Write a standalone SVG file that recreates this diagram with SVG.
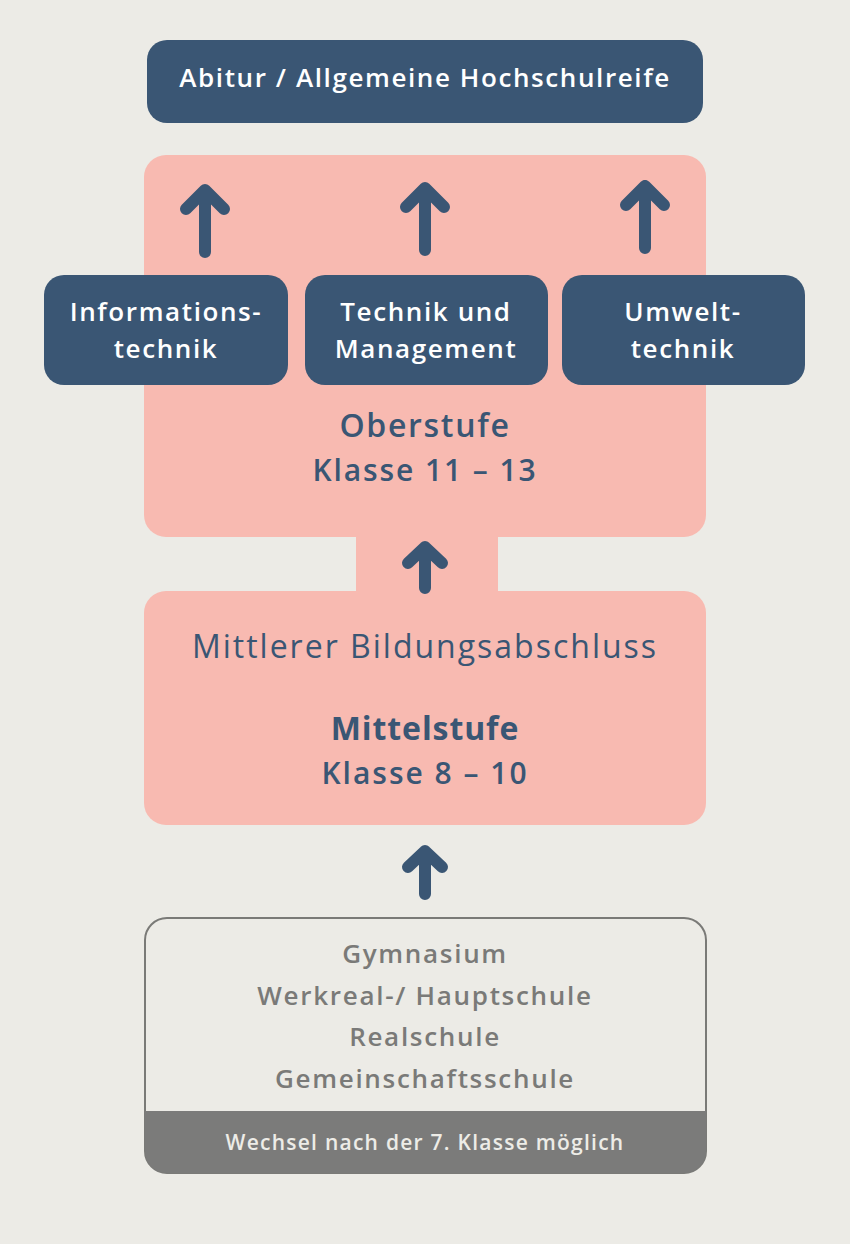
<svg xmlns="http://www.w3.org/2000/svg" width="850" height="1244" viewBox="0 0 850 1244">
<defs>
<style>
.bg{fill:#ECEBE6}
.dark{fill:#3A5674}
.pink{fill:#F8BAB1}
.t{font-family:"Open Sans","Liberation Sans",sans-serif;text-anchor:middle}
.w{fill:#FFFFFF;font-weight:600;font-size:26px;letter-spacing:1.6px}
.b{fill:#3A5674}
.g{fill:#7A7A78;font-weight:600;font-size:26px;letter-spacing:1.7px}
.arr{fill:none;stroke:#3A5674;stroke-width:12;stroke-linecap:round;stroke-linejoin:round}
</style>
</defs>
<rect class="bg" x="0" y="0" width="850" height="1244"/>
<g id="oberstufe">
<rect class="pink" x="144" y="155" width="562" height="382" rx="22"/>
<text class="t b" x="425" y="437" font-size="32" font-weight="600" letter-spacing="1.7">Oberstufe</text>
<text class="t b" x="425" y="481" font-size="30" font-weight="600" letter-spacing="1.9">Klasse 11 – 13</text>
</g>
<g id="mittelstufe">
<rect class="pink" x="144" y="591" width="562" height="234" rx="22"/>
<text class="t b" x="425" y="658" font-size="32" font-weight="400" letter-spacing="2">Mittlerer Bildungsabschluss</text>
<text class="t b" x="425" y="740" font-size="32" font-weight="700" letter-spacing="0.9">Mittelstufe</text>
<text class="t b" x="425" y="784" font-size="30" font-weight="600" letter-spacing="2">Klasse 8 – 10</text>
</g>
<g id="abitur">
<rect class="dark" x="147" y="40" width="556" height="83" rx="20"/>
<text class="t w" x="425" y="87">Abitur / Allgemeine Hochschulreife</text>
</g>
<g id="informationstechnik">
<rect class="dark" x="44" y="275" width="244" height="110" rx="20"/>
<text class="t w" x="166" y="321">Informations-</text>
<text class="t w" x="166" y="358">technik</text>
</g>
<g id="technik-management">
<rect class="dark" x="305" y="275" width="243" height="110" rx="20"/>
<text class="t w" x="426" y="321">Technik und</text>
<text class="t w" x="426" y="358">Management</text>
</g>
<g id="umwelttechnik">
<rect class="dark" x="562" y="275" width="243" height="110" rx="20"/>
<text class="t w" x="683" y="321">Umwelt-</text>
<text class="t w" x="683" y="358">technik</text>
</g>
<g id="schulen">
<rect x="145" y="918" width="561" height="255" rx="22" fill="#ECEBE6" stroke="#7A7A77" stroke-width="2"/>
<path d="M145 1111 H706 V1151 A22 22 0 0 1 684 1173 H167 A22 22 0 0 1 145 1151 Z" fill="#7B7B7A"/>
<text class="t g" x="425" y="963">Gymnasium</text>
<text class="t g" x="425" y="1005">Werkreal-/ Hauptschule</text>
<text class="t g" x="425" y="1046">Realschule</text>
<text class="t g" x="425" y="1088">Gemeinschaftsschule</text>
<text class="t" x="425" y="1150" font-size="21" font-weight="600" fill="#EDECE7" letter-spacing="1.25">Wechsel nach der 7. Klasse möglich</text>
</g>
<g id="connectors">
<rect class="pink" x="356" y="535" width="142" height="58"/>
<path class="arr" d="M205 252 V190 M186 209 L205 190 L224 209"/>
<path class="arr" d="M425 250 V188 M406 207 L425 188 L444 207"/>
<path class="arr" d="M645 248 V186 M626 205 L645 186 L664 205"/>
<path class="arr" d="M425 588 V547 M408 563 L425 547 L442 563"/>
<path class="arr" d="M425 894 V851 M408 867 L425 851 L442 867"/>
</g>
</svg>
